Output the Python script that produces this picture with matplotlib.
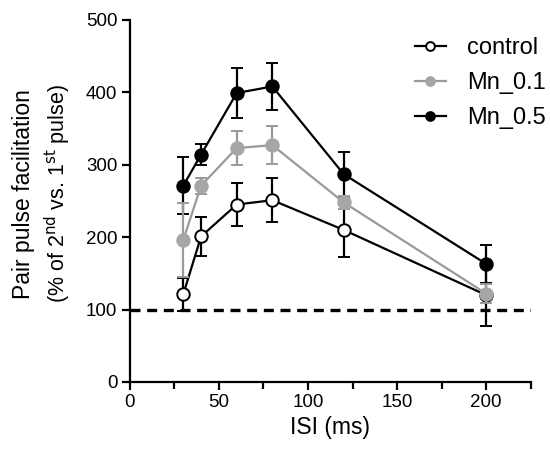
import matplotlib
matplotlib.use("Agg")
import matplotlib.pyplot as plt

plt.rcParams["font.family"] = ["Liberation Sans", "DejaVu Sans"]

isi = [30, 40, 60, 80, 120, 200]

control = [121, 201, 245, 251, 210, 120]
control_err = [23, 27, 30, 30, 38, 43]

mn_01 = [196, 271, 323, 327, 248, 122]
mn_01_err = [51, 11, 24, 26, 9, 13]

mn_05 = [271, 314, 399, 408, 287, 163]
mn_05_err = [39, 15, 34, 33, 31, 26]

series = [
    ("Mn_0.5", mn_05, mn_05_err, "black", "black", 3),
    ("control", control, control_err, "black", "white", 4),
    ("Mn_0.1", mn_01, mn_01_err, "#9a9a9a", "#a6a6a6", 5),
]

fig = plt.figure(figsize=(5.5, 4.51), dpi=100)
ax = fig.add_axes([0.236, 0.153, 0.729, 0.803])

handles = {}
for name, y, err, col, face, z in series:
    h = ax.errorbar(isi, y, yerr=err, color=col, lw=1.6, elinewidth=1.6,
                    capsize=4.5, capthick=1.6, marker="o", markersize=9,
                    markerfacecolor=face,
                    markeredgecolor=col if name != "Mn_0.1" else face,
                    markeredgewidth=1.4, zorder=z)
    handles[name] = h[0]

ax.axhline(100, color="black", lw=2.4, ls=(0, (3, 2)), zorder=2)

ax.set_xlim(0, 225)
ax.set_ylim(0, 500)
ax.set_xticks([0, 50, 100, 150, 200])
ax.set_xticks([25, 75, 125, 175, 225], minor=True)
ax.set_yticks([0, 100, 200, 300, 400, 500])
for s in ("top", "right"):
    ax.spines[s].set_visible(False)
for s in ("left", "bottom"):
    ax.spines[s].set_linewidth(1.6)
ax.tick_params(which="both", width=1.6, labelsize=13.5)
ax.tick_params(which="major", length=6, pad=3)
ax.tick_params(which="minor", length=5)
ax.set_xlabel("ISI (ms)", fontsize=16.5, labelpad=3)

fig.text(0.042, 0.57, "Pair pulse facilitation", rotation=90, fontsize=16.5,
         ha="center", va="center")
fig.text(0.106, 0.57, "(% of 2$^{\\mathrm{nd}}$ vs. 1$^{\\mathrm{st}}$ pulse)",
         rotation=90, fontsize=15.5, ha="center", va="center")

leg = fig.legend([handles["control"], handles["Mn_0.1"], handles["Mn_0.5"]],
                 ["control", "Mn_0.1", "Mn_0.5"], loc="upper left",
                 bbox_to_anchor=(415 / 550, 1 - 37 / 451), frameon=False,
                 fontsize=17, handlelength=1.3, handletextpad=0.9,
                 labelspacing=0.56, markerscale=0.7, borderpad=0,
                 borderaxespad=0)

fig.savefig("out.png", dpi=100)
